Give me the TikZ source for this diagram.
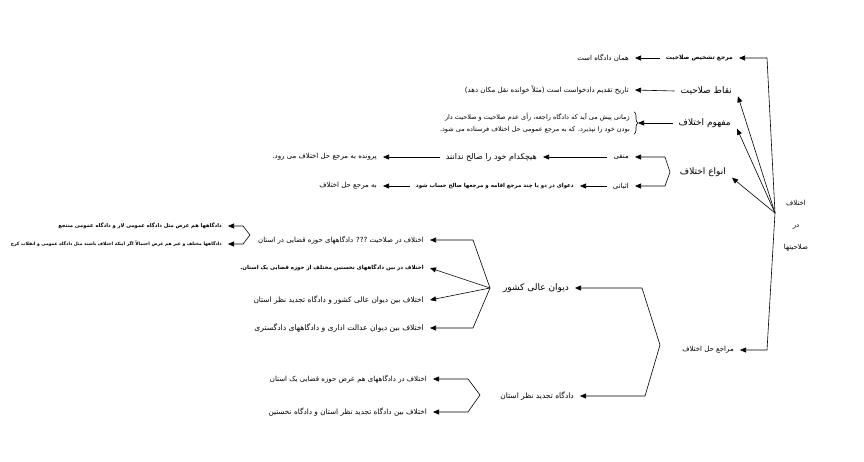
\documentclass[tikz,border=0pt]{standalone}
\usepackage{fontspec}
\newfontfamily\arabicfont[Script=Arabic]{DejaVu Sans}
\TeXXeTstate=1
\usetikzlibrary{arrows.meta,decorations.pathreplacing}
\newcommand{\fatext}[1]{{\arabicfont\beginR #1\endR}}
\tikzset{
  conn/.style={-{Triangle[length=6pt,width=5pt]},line width=0.6pt},
  item/.style={anchor=east,inner xsep=6pt,inner ysep=1pt,font=\fontsize{7}{8}\selectfont},
  head/.style={item,font=\fontsize{9}{10}\selectfont},
  tiny/.style={item,font=\fontsize{5.5}{6}\selectfont\bfseries},
}
\begin{document}
\begin{tikzpicture}[x=1pt,y=-1pt]
  \useasboundingbox (0,0) rectangle (864,461);
  \node[align=center,font=\fontsize{7}{22}\selectfont] (root) at (796,226) {\fatext{اختلاف}\\\fatext{در}\\\fatext{صلاحیتها}};
  \coordinate (rootj) at (775,213);
  \node[tiny,font=\fontsize{6}{7}\selectfont\bfseries] (n1) at (739,58) {\fatext{مرجع تشخیص صلاحیت}};
  \node[item] (m1) at (635,58) {\fatext{همان دادگاه است}};
  \node[head] (n2) at (738,91) {\fatext{نقاط صلاحیت}};
  \node[item] (m2) at (635,90) {\fatext{تاریخ تقدیم دادخواست است (مثلاً خوانده نقل مکان دهد)}};
  \node[head] (n3) at (737,123) {\fatext{مفهوم اختلاف}};
  \node[item,align=right,inner xsep=4pt,font=\fontsize{6.5}{12}\selectfont] (b3) at (634,123) {\fatext{زمانی پیش می آید که دادگاه راجعه، رأی عدم صلاحیت و صلاحیت دار}\\\fatext{بودن خود را نپذیرد. که به مرجع عمومی حل اختلاف فرستاده می شود.}};
  \node[head] (n4) at (732,172) {\fatext{انواع اختلاف}};
  \coordinate (v4) at (670,172);
  \node[item] (p41) at (635,157) {\fatext{منفی}};
  \node[item,font=\fontsize{8}{9}\selectfont] (q41) at (543,157) {\fatext{هیچکدام خود را صالح ندانند}};
  \node[item] (r41) at (383,157) {\fatext{پرونده به مرجع حل اختلاف می رود.}};
  \node[item] (p42) at (635,186) {\fatext{اثباتی}};
  \node[tiny] (q42) at (580,186) {\fatext{دعوای در دو یا چند مرجع اقامه و مرجعها صالح حساب شود}};
  \node[item] (r42) at (383,186) {\fatext{به مرجع حل اختلاف}};
  \node[item] (n5) at (740,350) {\fatext{مراجع حل اختلاف}};
  \coordinate (v5) at (660,345);
  \node[head] (d1) at (575,288) {\fatext{دیوان عالی کشور}};
  \node[item,font=\fontsize{7.5}{8}\selectfont] (d2) at (580,396) {\fatext{دادگاه تجدید نظر استان}};
  \coordinate (v6) at (490,288);
  \node[item] (e1) at (430,240) {\fatext{اختلاف در صلاحیت ??? دادگاههای حوزه قضایی در استان}};
  \node[tiny] (e2) at (430,268) {\fatext{اختلاف در بین دادگاههای نخستین مختلف از حوزه قضایی یک استان.}};
  \node[item,font=\fontsize{7.4}{8}\selectfont] (e3) at (430,300) {\fatext{اختلاف بین دیوان عالی کشور و دادگاه تجدید نظر استان}};
  \node[item,font=\fontsize{7.6}{8}\selectfont] (e4) at (430,328) {\fatext{اختلاف بین دیوان عدالت اداری و دادگاههای دادگستری}};
  \coordinate (v8) at (250,235);
  \node[tiny,font=\fontsize{5.2}{6}\selectfont\bfseries] (f1) at (228,226) {\fatext{دادگاهها هم عرض مثل دادگاه عمومی لار و دادگاه عمومی منتجع}};
  \node[tiny,font=\fontsize{4.5}{5}\selectfont\bfseries] (f2) at (228,244) {\fatext{دادگاهها مختلف و غیر هم عرض احتمالاً اگر اینکه اختلاف باشند مثل دادگاه عمومی و انقلاب کرج}};
  \coordinate (v7) at (480,395);
  \node[item] (g1) at (433,379) {\fatext{اختلاف در دادگاههای هم عرض حوزه قضایی یک استان}};
  \node[item,font=\fontsize{7.3}{8}\selectfont] (g2) at (433,412) {\fatext{اختلاف بین دادگاه تجدید نظر استان و دادگاه نخستین}};

  \draw[conn] (rootj) -- ([xshift=28pt]n1.east) -- (n1.east);
  \draw[conn] (rootj) -- (n2.south east);
  \draw[conn] (rootj) -- (n3.south east);
  \draw[conn] (rootj) -- (n4.south east);
  \draw[conn] (rootj) -- ([xshift=27pt]n5.east) -- (n5.east);
  \draw[conn] (n1.west) -- (m1.east);
  \draw[conn] (n2.west) -- (m2.east);
  \draw[line width=0.6pt,decorate,decoration={brace,amplitude=4pt}] (b3.north east) -- (b3.south east);
  \draw[conn] (n3.west) -- ([xshift=4pt]b3.east);
  \draw[conn] (v4) -- ++(-5,-15) -- (p41.east);
  \draw[conn] (v4) -- ++(-5,14) -- (p42.east);
  \draw[conn] (p41.west) -- (q41.east);
  \draw[conn] (q41.west) -- (r41.east);
  \draw[conn] (p42.west) -- (q42.east);
  \draw[conn] (q42.west) -- (r42.east);
  \draw[conn] (v5) -- ++(-18,-57) -- (d1.east);
  \draw[conn] (v5) -- ++(-15,51) -- (d2.east);
  \draw[conn] (v6) -- ++(-17,-48) -- (e1.east);
  \draw[conn] (v6) -- (e2.east);
  \draw[conn] (v6) -- (e3.east);
  \draw[conn] (v6) -- ++(-17,40) -- (e4.east);
  \draw[conn] (v8) -- ++(-7,-9) -- (f1.east);
  \draw[conn] (v8) -- ++(-7,9) -- (f2.east);
  \draw[conn] (v7) -- ++(-12,-16) -- (g1.east);
  \draw[conn] (v7) -- ++(-12,17) -- (g2.east);
\end{tikzpicture}
\end{document}
